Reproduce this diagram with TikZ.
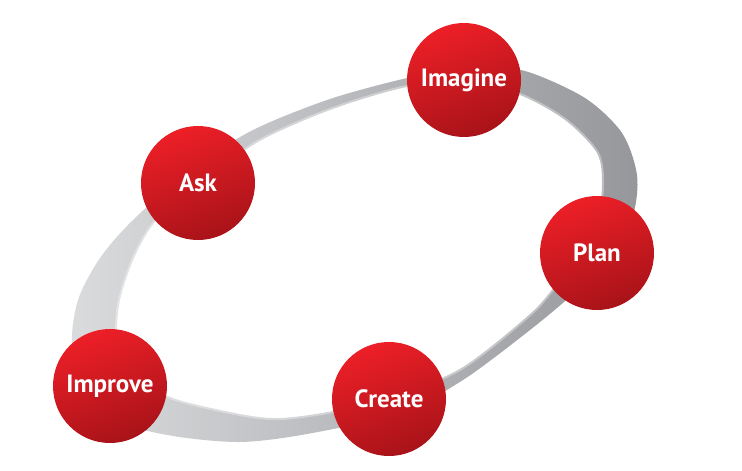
\documentclass[tikz,border=0pt]{standalone}
\usepackage{fontspec}
\setmainfont{PT Sans}

\definecolor{stagered}{HTML}{ED1F27}
\definecolor{stagedark}{HTML}{A81319}
\definecolor{ringlight}{HTML}{DADBDD}
\definecolor{ringmid}{HTML}{C9CACC}
\definecolor{ringdark}{HTML}{96979B}

\tikzset{
  stage/.style={circle, minimum size=114pt, inner sep=0pt,
    top color=stagered, middle color=stagered!97!stagedark,
    bottom color=stagedark, shading angle=20,
    text=white, font=\bfseries\fontsize{25}{25}\selectfont},
  ring/.style={left color=ringlight, middle color=ringmid,
    right color=ringdark, even odd rule},
}

\begin{document}
\begin{tikzpicture}[x=1pt, y=-1pt]
    \useasboundingbox (0,0) rectangle (742,471);

    % the tilted ring
    \def\ringouter{plot[smooth cycle] coordinates {
        (72,345) (78,300) (100,258) (133,220) (190,170) (253,130)
        (330,99) (407,78) (470,66) (525,71) (585,98) (622,133)
        (637,175) (633,215) (612,252) (575,292) (530,330) (463,380)
        (400,413) (307,434) (240,442) (173,436) (120,422) (84,390)}}
    \def\ringinner{plot[smooth cycle] coordinates {
        (118,340) (120,300) (135,256) (157,220) (205,181) (258,142)
        (330,110) (407,87) (470,83) (520,95) (565,120) (597,153)
        (602,185) (597,220) (580,252) (558,282) (530,314) (463,367)
        (400,394) (333,411) (280,418) (240,414) (173,398) (135,375)}}

    \shade[ring] \ringouter \ringinner;
    \begin{scope}
        \clip \ringouter;
        \draw[white, opacity=0.35, line width=4pt] \ringinner;
    \end{scope}

    % the five stages
    \node[stage] (imagine) at (464,80) {Imagine};
    \node[stage] (ask)     at (198,183) {Ask};
    \node[stage] (plan)    at (597,253) {Plan};
    \node[stage] (improve) at (110,386) {Improve};
    \node[stage] (create)  at (389,399) {Create};
\end{tikzpicture}
\end{document}
